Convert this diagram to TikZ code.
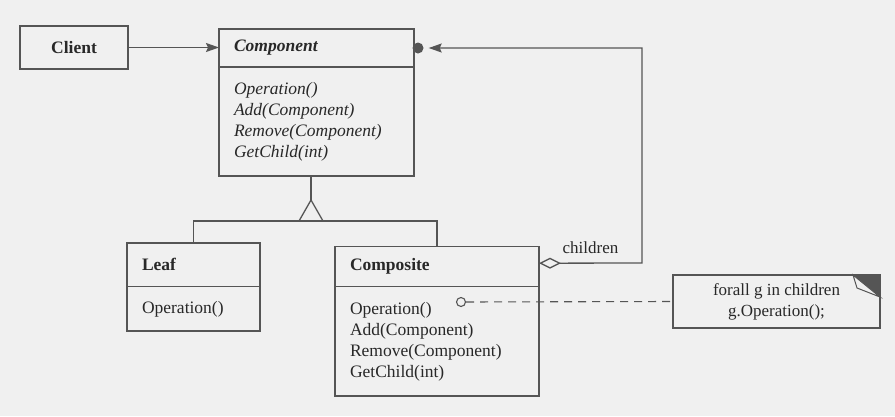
\documentclass[tikz,border=0pt]{standalone}
\usepackage{fontspec}
\setmainfont{Liberation Serif}
\usetikzlibrary{shapes.geometric, arrows.meta, positioning}
\definecolor{bgGray}{RGB}{240,240,240}
\definecolor{lineGray}{RGB}{85,85,85}
\definecolor{inkGray}{RGB}{40,40,40}
\newcommand{\umlFont}{\fontsize{17.5}{21}\selectfont}
\tikzstyle{classHead} = [rectangle, draw=lineGray, line width=1.3pt, outer sep=0pt, inner xsep=15pt, inner ysep=0pt, align=left, text=inkGray, font=\umlFont\bfseries]
\tikzstyle{abstractHead} = [classHead, font=\umlFont\bfseries\itshape]
\tikzstyle{classBody} = [rectangle, draw=lineGray, line width=1.3pt, outer sep=0pt, inner xsep=15pt, inner ysep=0pt, align=left, text=inkGray, font=\umlFont]
\tikzstyle{abstractBody} = [classBody, font=\umlFont\itshape]
\tikzstyle{noteBox} = [rectangle, draw=lineGray, line width=1.3pt, outer sep=0pt, align=center, text=inkGray, font=\fontsize{17}{21}\selectfont]
\tikzstyle{childLabel} = [inner sep=1pt, text=inkGray, font=\fontsize{17}{21}\selectfont]
\tikzstyle{arrow} = [draw=lineGray, line width=1.3pt, -{Stealth[length=13pt, width=9pt, inset=2pt]}]
\tikzstyle{inherit} = [draw=lineGray, line width=1.3pt]
\tikzstyle{aggregation} = [draw=lineGray, line width=1.3pt, {Diamond[length=22pt, width=11pt, fill=bgGray]}-{Stealth[length=13pt, width=9pt, inset=2pt]}, shorten >=5pt]
\tikzstyle{noteLink} = [draw=lineGray, line width=1.1pt, dash pattern=on 8pt off 6pt]

\begin{document}
\begin{tikzpicture}[x=1pt, y=-1pt, node distance=0pt]
\fill[bgGray] (0,0) rectangle (895,416);
\useasboundingbox (0,0) rectangle (895,416);

\node (client) [classHead, text width=78pt, align=center, minimum height=43pt] at (74,47.5) {Client};

\node (compHead) [abstractHead, text width=165pt, minimum height=38pt] at (316.5,48) {Component};
\node (compBody) [abstractBody, text width=165pt, minimum height=109pt, below=of compHead] {
Operation()\\
Add(Component)\\
Remove(Component)\\
GetChild(int)
};

\node (leafHead) [classHead, text width=103pt, minimum height=43.7pt] at (193.5,264.85) {Leaf};
\node (leafBody) [classBody, text width=103pt, minimum height=44.3pt, below=of leafHead] {Operation()};

\node (compositeHead) [classHead, text width=174pt, minimum height=40pt] at (437,266.7) {Composite};
\node (compositeBody) [classBody, text width=174pt, minimum height=109.3pt, below=of compositeHead] {
Operation()\\
Add(Component)\\
Remove(Component)\\
GetChild(int)
};

\node (note) [noteBox, minimum width=207pt, minimum height=53pt] at (776.5,301.5) {forall g in children\\g.Operation();};
\fill[lineGray] (note.north east) -- ++(-27,0) -- ++(27,22) -- cycle;
\filldraw[draw=lineGray, line width=1pt, fill=bgGray] ([xshift=-27pt]note.north east) -- ++(4,13) -- ++(23,9) -- cycle;

\node (hook) [circle, draw=lineGray, line width=1.1pt, inner sep=0pt, minimum size=9pt] at (461,302) {};
\node (dot) [circle, fill=lineGray, inner sep=0pt, minimum size=11pt] at ([xshift=4pt]compHead.east) {};

\coordinate (apex) at (311,200);
\coordinate (bar) at (311,221);
\coordinate (loopCorner) at (642,263);

\draw [arrow] (client.east) -- (client.east -| compHead.west);
\draw [inherit] (compBody.south -| apex) -- (apex);
\draw [inherit, fill=bgGray] (apex) -- ++(-12,21) -- ++(24,0) -- cycle;
\draw [inherit] (leafHead.north) |- (bar) -| (compositeHead.north);
\draw [aggregation] ([yshift=3.5pt]compositeHead.east) -- node[childLabel, above=8pt] {children} (loopCorner) |- (dot);
\draw [noteLink] (hook) -- (note.west);

\end{tikzpicture}
\end{document}
